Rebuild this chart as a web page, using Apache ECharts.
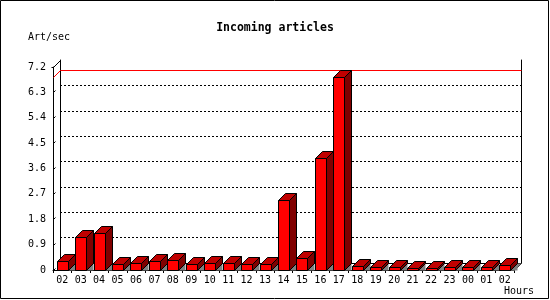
<!DOCTYPE html>
<html>
<head>
<meta charset="utf-8">
<script src="https://cdn.jsdelivr.net/npm/echarts@6/dist/echarts.min.js"></script>
<style>
html,body{margin:0;padding:0;background:#fff;}
#c{width:550px;height:300px;}
</style>
</head>
<body>
<div id="c"></div>
<script>
// ---- data ----
const categories = ['02','03','04','05','06','07','08','09','10','11','12','13','14','15','16','17','18','19','20','21','22','23','00','01','02'];
const values = [0.31,1.16,1.30,0.20,0.24,0.31,0.34,0.20,0.24,0.24,0.20,0.20,2.47,0.41,3.99,6.83,0.13,0.10,0.10,0.06,0.06,0.10,0.10,0.10,0.17];
const yTicks = [0,0.9,1.8,2.7,3.6,4.5,5.4,6.3,7.2];
const yMin = 0, yMax = 7.2, yStep = 0.9;

// ---- style ----
const D = 7; // 3D depth
const FONT = 'DejaVu Sans Mono';
const gridA = {left:53, top:67, width:461, height:203};
const gridB = {left:gridA.left + D, top:gridA.top - D, width:gridA.width, height:gridA.height};

const chart = echarts.init(document.getElementById('c'), null, {renderer:'canvas'});
const px = v => Math.round(v) + 0.5;

function renderBar(params, api) {
  const idx = api.value(0), val = api.value(1);
  const top = api.coord([idx, val]);
  const base = api.coord([idx, 0]);
  const bw = Math.round(api.size([1, 0])[0] * 0.6);
  const x0 = px(top[0] - bw / 2);
  const x1 = x0 + bw;
  const yt = px(top[1]);
  const yb = px(base[1]);
  const stroke = {stroke:'#000', lineWidth:1};
  return {
    type:'group',
    children:[
      {type:'polygon', shape:{points:[[x1,yb],[x1+D,yb-D],[x1+D,yb]]}, style:{fill:'#808080'}},
      {type:'polygon', shape:{points:[[x1,yt],[x1+D,yt-D],[x1+D,yb-D],[x1,yb]]}, style:Object.assign({fill:'#800000'}, stroke)},
      {type:'polygon', shape:{points:[[x0,yt],[x0+D,yt-D],[x1+D,yt-D],[x1,yt]]}, style:Object.assign({fill:'#c00000'}, stroke)},
      {type:'rect', shape:{x:x0, y:yt, width:x1-x0, height:yb-yt}, style:Object.assign({fill:'#ff0000'}, stroke)}
    ]
  };
}

function renderTickDiag(params, api) {
  const v = api.value(1);
  const cs = params.coordSys;
  const p = api.coord([0, v]);
  const x = px(cs.x), y = px(p[1]);
  const len = (v === yMax) ? D : 2;
  const children = [
    {type:'line', shape:{x1:x, y1:y, x2:x+len, y2:y-len}, style:{stroke:'#000', lineWidth:1}}
  ];
  if (v === yMax) {
    children.push({type:'line', shape:{x1:x-2, y1:y, x2:x, y2:y}, style:{stroke:'#000', lineWidth:1}});
  }
  if (v === yMin) {
    const xr = px(cs.x + cs.width);
    children.push({type:'line', shape:{x1:xr, y1:y, x2:xr+D, y2:y-D}, style:{stroke:'#000', lineWidth:1}});
    children.push({type:'polygon', shape:{points:[[xr-4,y],[xr-4+D,y-D],[xr+D,y-D],[xr,y]]}, style:{fill:'#808080'}});
  }
  return {type:'group', children};
}

function renderMax(params, api) {
  const v = api.value(1);
  const cs = params.coordSys;
  const p = api.coord([0, v]);
  const x = px(cs.x), y = px(p[1]);
  return {
    type:'polyline',
    shape:{points:[[x,y],[x+D,y-D],[px(cs.x+cs.width)+D,y-D]]},
    style:{stroke:'#ff0000', lineWidth:1, fill:null}
  };
}

const maxVal = Math.max.apply(null, values);

const option = {
  backgroundColor:'#fff',
  animation:false,
  title:{
    text:'Incoming articles', left:'center', top:17,
    textStyle:{fontFamily:FONT, fontSize:11.5, fontWeight:'bold', color:'#000'}
  },
  grid:[
    Object.assign({containLabel:false}, gridA),
    Object.assign({containLabel:false}, gridB)
  ],
  xAxis:[
    {gridIndex:0, type:'category', data:categories, boundaryGap:true,
     axisLine:{show:true, lineStyle:{color:'#000', width:1}},
     axisTick:{show:true, interval:0, alignWithLabel:false, length:3, lineStyle:{color:'#000'}},
     axisLabel:{interval:0, margin:5, color:'#000', fontFamily:FONT, fontSize:10},
     splitLine:{show:false}},
    {gridIndex:1, type:'category', data:categories, position:'top', boundaryGap:true,
     axisLine:{show:true, lineStyle:{color:'#000', width:1}},
     axisTick:{show:false}, axisLabel:{show:false}, splitLine:{show:false}}
  ],
  yAxis:[
    {gridIndex:0, type:'value', min:yMin, max:yMax, interval:yStep,
     axisLine:{show:true, lineStyle:{color:'#000', width:1}},
     axisTick:{show:false},
     axisLabel:{margin:7, color:'#000', fontFamily:FONT, fontSize:10},
     splitLine:{show:false}},
    {gridIndex:1, type:'value', min:yMin, max:yMax, interval:yStep,
     axisLine:{show:true, lineStyle:{color:'#000', width:1}},
     axisTick:{show:false}, axisLabel:{show:false},
     splitLine:{show:true, showMinLine:false, showMaxLine:false, lineStyle:{color:'#000', width:1, type:[2,2]}}},
    {gridIndex:1, type:'value', position:'right', min:yMin, max:yMax, interval:yStep,
     axisLine:{show:true, lineStyle:{color:'#000', width:1}},
     axisTick:{show:false}, axisLabel:{show:false}, splitLine:{show:false}}
  ],
  series:[
    {type:'custom', name:'walls', xAxisIndex:0, yAxisIndex:0, renderItem:renderTickDiag,
     data:yTicks.map(v => [0, v]), encode:{x:0, y:1}, silent:true, z:1},
    {type:'custom', name:'max', xAxisIndex:0, yAxisIndex:0, renderItem:renderMax,
     data:[[0, maxVal]], encode:{x:0, y:1}, silent:true, z:1},
    {type:'custom', name:'Incoming articles', xAxisIndex:0, yAxisIndex:0, renderItem:renderBar,
     data:values.map((v, i) => [i, v]), encode:{x:0, y:1}, z:3}
  ],
  graphic:[
    {type:'rect', shape:{x:0.5, y:0.5, width:548, height:298}, style:{fill:null, stroke:'#000', lineWidth:1}, silent:true},
    {type:'text', left:28, top:32, style:{text:'Art/sec', fontFamily:FONT, fontSize:10, fill:'#000'}},
    {type:'text', right:16, top:286, style:{text:'Hours', fontFamily:FONT, fontSize:10, fill:'#000'}}
  ]
};
chart.setOption(option);
</script>
</body>
</html>
